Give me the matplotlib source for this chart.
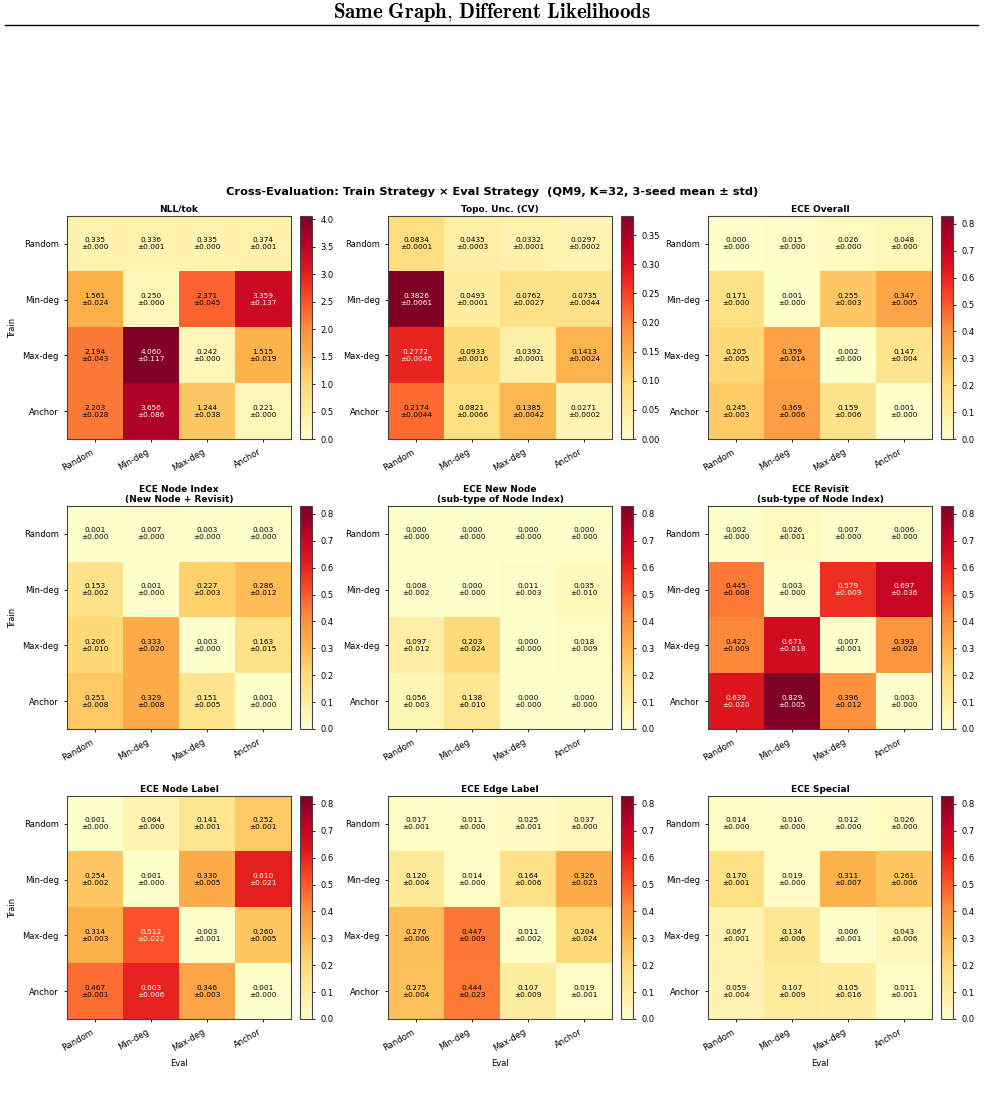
import numpy as np
import matplotlib
matplotlib.use("Agg")
import matplotlib.pyplot as plt
from matplotlib.lines import Line2D

plt.rcParams['mathtext.fontset'] = 'cm'

strategies = ['Random', 'Min-deg', 'Max-deg', 'Anchor']

# rows = train strategy, cols = eval strategy
nll_mean = [[0.335, 0.336, 0.335, 0.374],
            [1.561, 0.250, 2.371, 3.359],
            [2.194, 4.060, 0.242, 1.515],
            [2.203, 3.656, 1.244, 0.221]]
nll_std = [[0.000, 0.001, 0.000, 0.001],
           [0.024, 0.000, 0.045, 0.137],
           [0.043, 0.117, 0.000, 0.019],
           [0.028, 0.086, 0.038, 0.000]]

topo_mean = [[0.0834, 0.0435, 0.0332, 0.0297],
             [0.3826, 0.0493, 0.0762, 0.0735],
             [0.2772, 0.0933, 0.0392, 0.1413],
             [0.2174, 0.0821, 0.1385, 0.0271]]
topo_std = [[0.0001, 0.0003, 0.0001, 0.0002],
            [0.0061, 0.0001, 0.0027, 0.0044],
            [0.0046, 0.0016, 0.0001, 0.0024],
            [0.0044, 0.0066, 0.0042, 0.0002]]

ece_overall_mean = [[0.000, 0.015, 0.026, 0.048],
                    [0.171, 0.001, 0.255, 0.347],
                    [0.205, 0.359, 0.002, 0.147],
                    [0.245, 0.369, 0.159, 0.001]]
ece_overall_std = [[0.000, 0.000, 0.000, 0.000],
                   [0.000, 0.000, 0.003, 0.005],
                   [0.005, 0.014, 0.000, 0.004],
                   [0.003, 0.006, 0.006, 0.000]]

ece_index_mean = [[0.001, 0.007, 0.003, 0.003],
                  [0.153, 0.001, 0.227, 0.286],
                  [0.206, 0.333, 0.003, 0.163],
                  [0.251, 0.329, 0.151, 0.001]]
ece_index_std = [[0.000, 0.000, 0.000, 0.000],
                 [0.002, 0.000, 0.003, 0.012],
                 [0.010, 0.020, 0.000, 0.015],
                 [0.008, 0.008, 0.005, 0.000]]

ece_new_mean = [[0.000, 0.000, 0.000, 0.000],
                [0.008, 0.000, 0.011, 0.035],
                [0.097, 0.203, 0.000, 0.018],
                [0.056, 0.138, 0.000, 0.000]]
ece_new_std = [[0.000, 0.000, 0.000, 0.000],
               [0.002, 0.000, 0.003, 0.010],
               [0.012, 0.024, 0.000, 0.009],
               [0.003, 0.010, 0.000, 0.000]]

ece_revisit_mean = [[0.002, 0.026, 0.007, 0.006],
                    [0.445, 0.003, 0.579, 0.697],
                    [0.422, 0.671, 0.007, 0.393],
                    [0.639, 0.829, 0.396, 0.003]]
ece_revisit_std = [[0.000, 0.001, 0.000, 0.000],
                   [0.008, 0.000, 0.009, 0.036],
                   [0.009, 0.018, 0.001, 0.028],
                   [0.020, 0.005, 0.012, 0.000]]

ece_nlabel_mean = [[0.001, 0.064, 0.141, 0.252],
                   [0.254, 0.001, 0.330, 0.610],
                   [0.314, 0.512, 0.003, 0.260],
                   [0.467, 0.603, 0.346, 0.001]]
ece_nlabel_std = [[0.000, 0.000, 0.001, 0.001],
                  [0.002, 0.000, 0.005, 0.021],
                  [0.003, 0.022, 0.001, 0.005],
                  [0.001, 0.006, 0.003, 0.000]]

ece_elabel_mean = [[0.017, 0.011, 0.025, 0.037],
                   [0.120, 0.014, 0.164, 0.326],
                   [0.276, 0.447, 0.011, 0.204],
                   [0.275, 0.444, 0.107, 0.019]]
ece_elabel_std = [[0.001, 0.000, 0.001, 0.000],
                  [0.004, 0.000, 0.006, 0.023],
                  [0.006, 0.009, 0.002, 0.024],
                  [0.004, 0.023, 0.009, 0.001]]

ece_special_mean = [[0.014, 0.010, 0.012, 0.026],
                    [0.170, 0.019, 0.311, 0.261],
                    [0.067, 0.134, 0.006, 0.043],
                    [0.059, 0.107, 0.105, 0.011]]
ece_special_std = [[0.000, 0.000, 0.000, 0.000],
                   [0.001, 0.000, 0.007, 0.006],
                   [0.001, 0.006, 0.001, 0.006],
                   [0.004, 0.009, 0.016, 0.001]]

panels = [
    ('NLL/tok', nll_mean, nll_std, 3, 'nll'),
    ('Topo. Unc. (CV)', topo_mean, topo_std, 4, 'topo'),
    ('ECE Overall', ece_overall_mean, ece_overall_std, 3, 'ece'),
    ('ECE Node Index\n(New Node + Revisit)', ece_index_mean, ece_index_std, 3, 'ece'),
    ('ECE New Node\n(sub-type of Node Index)', ece_new_mean, ece_new_std, 3, 'ece'),
    ('ECE Revisit\n(sub-type of Node Index)', ece_revisit_mean, ece_revisit_std, 3, 'ece'),
    ('ECE Node Label', ece_nlabel_mean, ece_nlabel_std, 3, 'ece'),
    ('ECE Edge Label', ece_elabel_mean, ece_elabel_std, 3, 'ece'),
    ('ECE Special', ece_special_mean, ece_special_std, 3, 'ece'),
]

# shared scale for all ECE panels
ece_max = max(np.max(p[1]) for p in panels if p[4] == 'ece')

W, H = 984, 1100
fig = plt.figure(figsize=(W / 100, H / 100), dpi=100)

# page header
fig.text(0.5, 1 - 13 / H, r'$\mathbf{Same\ Graph{,}\ Different\ Likelihoods}$',
         ha='center', va='center', fontsize=15)
fig.add_artist(Line2D([5 / W, 978 / W], [1 - 25 / H, 1 - 25 / H],
                      color='black', lw=1.0, transform=fig.transFigure))

fig.text(0.5, 1 - 192 / H,
         'Cross-Evaluation: Train Strategy × Eval Strategy  (QM9, K=32, 3-seed mean ± std)',
         ha='center', va='center', fontsize=8.2, fontweight='bold')

heat_x = [67, 388, 708]
cbar_x = [300, 621, 941]
row_y = [216, 506, 796]
hw, hh, cw = 224, 223, 12

for k, (title, mean, std, dec, kind) in enumerate(panels):
    r, c = divmod(k, 3)
    mean = np.array(mean)
    std = np.array(std)
    vmax = ece_max if kind == 'ece' else mean.max()
    ax = fig.add_axes([heat_x[c] / W, 1 - (row_y[r] + hh) / H, hw / W, hh / H])
    cax = fig.add_axes([cbar_x[c] / W, 1 - (row_y[r] + hh) / H, cw / W, hh / H])
    im = ax.imshow(mean, cmap='YlOrRd', vmin=0, vmax=vmax, aspect='auto')
    cb = fig.colorbar(im, cax=cax)
    cb.ax.tick_params(labelsize=6, length=2.5, width=0.6)
    cb.outline.set_edgecolor('#444444')
    for i in range(4):
        for j in range(4):
            col = 'white' if mean[i, j] > 0.6 * vmax else 'black'
            ax.text(j, i, f'{mean[i, j]:.{dec}f}\n±{std[i, j]:.{dec}f}',
                    ha='center', va='center', fontsize=5.3, color=col,
                    linespacing=1.2)
    ax.set_xticks(range(4))
    ax.set_yticks(range(4))
    ax.set_xticklabels(strategies, rotation=30, ha='right', fontsize=6)
    ax.set_yticklabels(strategies, fontsize=6)
    ax.tick_params(length=2.5, width=0.6)
    for s in ax.spines.values():
        s.set_edgecolor('#444444')
    ax.set_title(title, fontsize=6.5, fontweight='bold', pad=3, linespacing=1.1)
    if c == 0:
        ax.set_ylabel('Train', fontsize=6)
    if r == 2:
        ax.set_xlabel('Eval', fontsize=6)

fig.savefig('out.png', dpi=100)
